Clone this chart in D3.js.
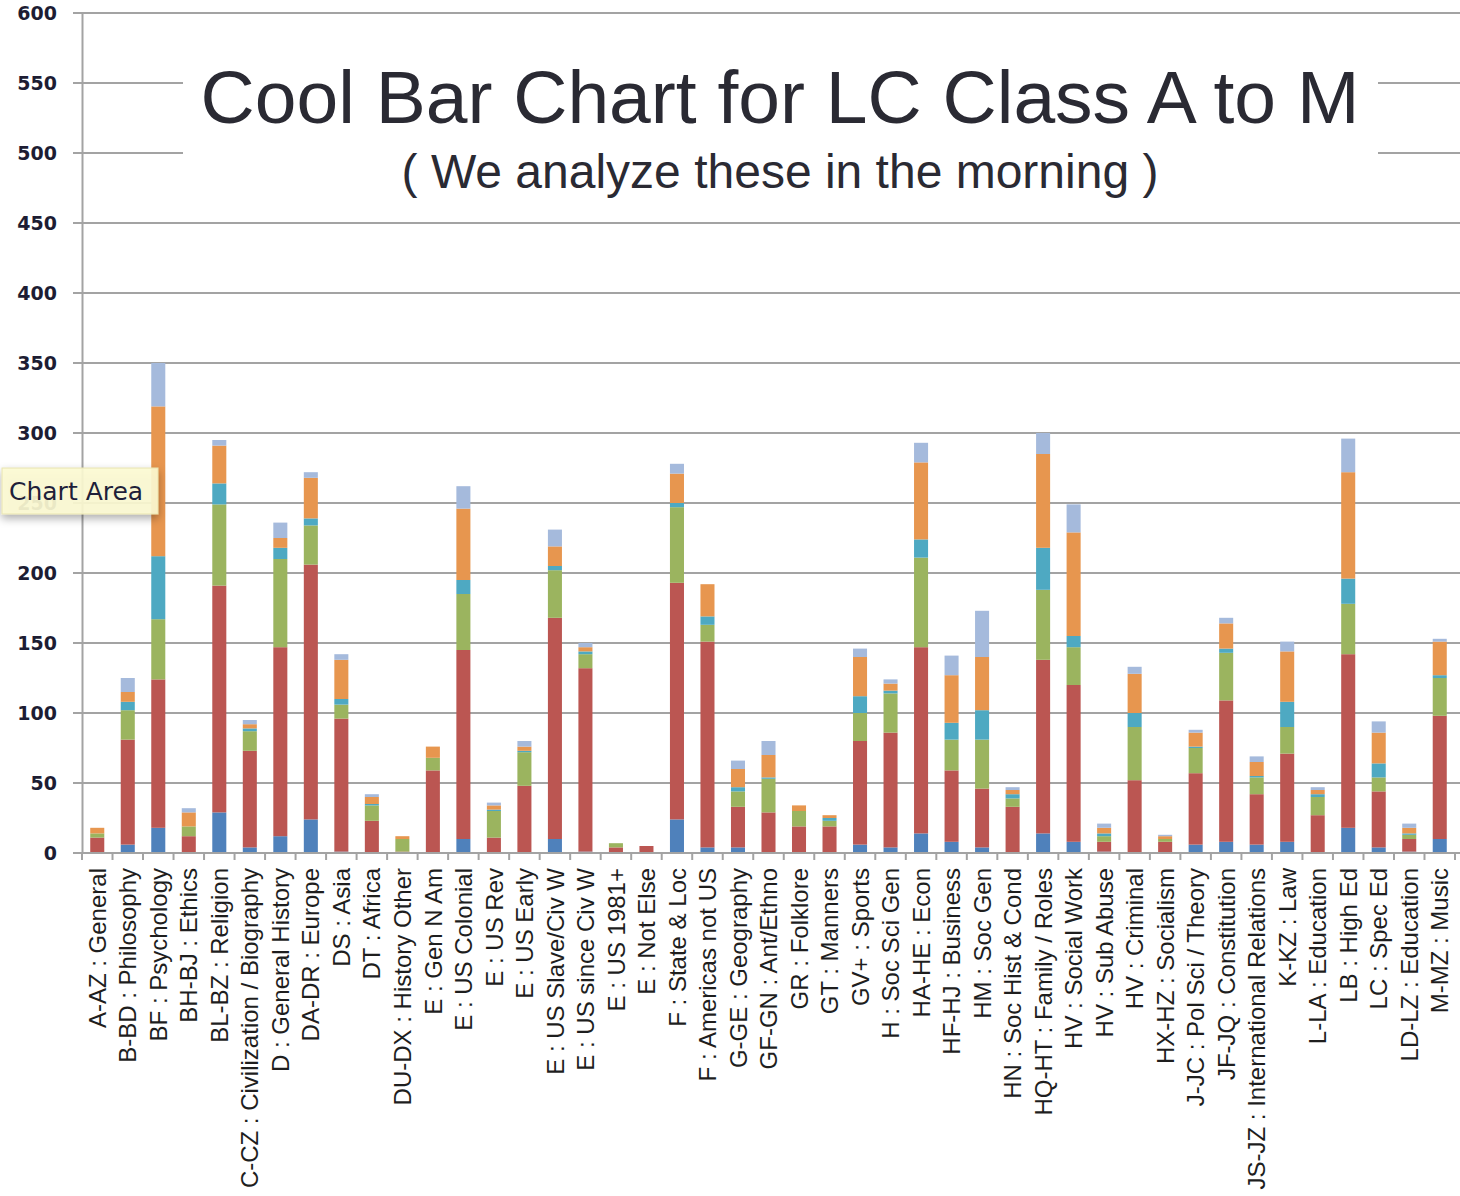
<!DOCTYPE html>
<html>
<head>
<meta charset="utf-8">
<script src="https://cdn.jsdelivr.net/npm/d3@7"></script>
<style>
  html, body { margin: 0; padding: 0; background: #fff; }
  svg { display: block; }
</style>
</head>
<body>
<script>
const categories = [
  "A-AZ : General", "B-BD : Philosophy", "BF : Psychology", "BH-BJ : Ethics", "BL-BZ : Religion",
  "C-CZ : Civilization / Biography", "D : General History", "DA-DR : Europe", "DS : Asia", "DT : Africa",
  "DU-DX : History Other", "E : Gen N Am", "E : US Colonial", "E : US Rev", "E : US Early",
  "E : US Slave/Civ W", "E : US since Civ W", "E : US 1981+", "E : Not Else", "F : State & Loc",
  "F : Americas not US", "G-GE : Geography", "GF-GN : Ant/Ethno", "GR : Folklore", "GT : Manners",
  "GV+ : Sports", "H : Soc Sci Gen", "HA-HE : Econ", "HF-HJ : Business", "HM : Soc Gen",
  "HN : Soc Hist & Cond", "HQ-HT : Family / Roles", "HV : Social Work", "HV : Sub Abuse", "HV : Criminal",
  "HX-HZ : Socialism", "J-JC : Pol Sci / Theory", "JF-JQ : Constitution", "JS-JZ : International Relations", "K-KZ : Law",
  "L-LA : Education", "LB : High Ed", "LC : Spec Ed", "LD-LZ : Education", "M-MZ : Music"
];

// series, bottom to top
const seriesBlue      = [0, 6, 18, 0, 29, 4, 12, 24, 1, 0, 0, 0, 10, 0, 0, 10, 1, 0, 0, 24, 4, 4, 0, 0, 0, 6, 4, 14, 8, 4, 0, 14, 8, 1, 0, 0, 6, 8, 6, 8, 0, 18, 4, 1, 10];
const seriesRed       = [11, 75, 106, 12, 162, 69, 135, 182, 95, 23, 1, 59, 135, 11, 48, 158, 131, 4, 5, 169, 147, 29, 29, 19, 19, 74, 82, 133, 51, 42, 33, 124, 112, 7, 52, 8, 51, 101, 36, 63, 27, 124, 40, 9, 88];
const seriesGreen     = [3, 21, 43, 7, 58, 14, 63, 28, 10, 11, 9, 9, 40, 19, 24, 34, 10, 3, 0, 54, 12, 11, 24, 11, 4, 20, 28, 64, 22, 35, 6, 50, 27, 4, 38, 2, 18, 34, 12, 19, 13, 36, 10, 3, 27];
const seriesTeal      = [0, 6, 45, 0, 15, 2, 8, 5, 4, 1, 0, 0, 10, 1, 1, 3, 2, 0, 0, 3, 6, 3, 1, 0, 2, 12, 2, 13, 12, 21, 3, 30, 8, 2, 10, 0, 1, 3, 1, 18, 2, 18, 10, 1, 2];
const seriesOrange    = [4, 7, 107, 10, 27, 3, 7, 29, 28, 5, 2, 8, 51, 3, 3, 14, 3, 0, 0, 21, 23, 13, 16, 4, 2, 28, 5, 55, 34, 38, 3, 67, 74, 4, 28, 2, 10, 18, 10, 36, 3, 76, 22, 4, 24];
const seriesLightBlue = [0, 10, 31, 3, 4, 3, 11, 4, 4, 2, 0, 0, 16, 2, 4, 12, 3, 0, 0, 7, 0, 6, 10, 0, 0, 6, 3, 14, 14, 33, 2, 15, 20, 3, 5, 1, 2, 4, 4, 7, 2, 24, 8, 3, 2];

const yTicks = [0, 50, 100, 150, 200, 250, 300, 350, 400, 450, 500, 550, 600];
const titleText = "Cool Bar Chart for LC Class A to M";
const subtitleText = "( We analyze these in the morning )";
const tooltipText = "Chart Area";

const seriesKeys = ["blue", "red", "green", "teal", "orange", "lightBlue"];
const seriesArrays = [seriesBlue, seriesRed, seriesGreen, seriesTeal, seriesOrange, seriesLightBlue];
const colors = {
  blue: "#4f81bb", red: "#bb5652", green: "#9bb45f", teal: "#4ea9c2",
  orange: "#e7964f", lightBlue: "#a5badc"
};

const W = 1460, H = 1196;
const svg = d3.select("body").append("svg").attr("width", W).attr("height", H);

const table = categories.map((c, i) => {
  const row = { category: c };
  seriesKeys.forEach((k, j) => row[k] = seriesArrays[j][i]);
  return row;
});

const x = d3.scaleBand().domain(categories).range([82, 1455]).paddingInner(0.54).paddingOuter(0.27);
const y = d3.scaleLinear().domain([0, 600]).range([853, 13]);

// gridlines
svg.append("g").selectAll("line").data(yTicks).join("line")
  .attr("x1", 73).attr("x2", W)
  .attr("y1", d => y(d)).attr("y2", d => y(d))
  .attr("stroke", "#a3a3a3").attr("stroke-width", 2);

// y axis
const yAxis = svg.append("g").attr("transform", "translate(82,0)")
  .call(d3.axisLeft(y).tickValues(yTicks).tickSize(0).tickPadding(25));
yAxis.select(".domain").attr("stroke", "#a3a3a3").attr("stroke-width", 2);
yAxis.selectAll("text")
  .attr("font-family", "DejaVu Sans, sans-serif")
  .attr("font-size", 19).attr("font-weight", "bold")
  .attr("fill", "#1d1d33");

// stacked bars
const stack = d3.stack().keys(seriesKeys)(table);
svg.append("g").selectAll("g").data(stack).join("g")
  .attr("fill", d => colors[d.key])
  .selectAll("rect").data(d => d).join("rect")
  .attr("x", d => x(d.data.category))
  .attr("width", x.bandwidth())
  .attr("y", d => y(d[1]))
  .attr("height", d => Math.max(0, y(d[0]) - y(d[1])));

// x axis
const step = x.step();
const xAxis = svg.append("g").attr("transform", "translate(0,853)")
  .call(d3.axisBottom(x).tickSize(0).tickPadding(0));
xAxis.select(".domain").remove();
svg.append("line").attr("x1", 73).attr("x2", W).attr("y1", 853).attr("y2", 853)
  .attr("stroke", "#a3a3a3").attr("stroke-width", 2);
// band-boundary tick marks
const boundaries = categories.map((c, i) => x(c) + x.bandwidth() / 2 - step / 2).concat([x(categories[categories.length - 1]) + x.bandwidth() / 2 + step / 2]);
svg.append("g").selectAll("line").data(boundaries).join("line")
  .attr("x1", d => d).attr("x2", d => d).attr("y1", 853).attr("y2", 860)
  .attr("stroke", "#a3a3a3").attr("stroke-width", 2);

xAxis.selectAll("text")
  .attr("font-family", "Liberation Sans, Arial, sans-serif")
  .attr("font-size", 24).attr("fill", "#1e1e1e")
  .attr("text-anchor", "end")
  .attr("transform", "translate(0,15) rotate(-90)")
  .attr("x", 0).attr("y", 0).attr("dy", "0.36em");

// title block
svg.append("rect").attr("x", 183).attr("y", 45).attr("width", 1195).attr("height", 152).attr("fill", "#fff");
svg.append("text").attr("x", 780).attr("y", 123).attr("text-anchor", "middle")
  .attr("font-family", "Liberation Sans, Arial, sans-serif").attr("font-size", 75)
  .attr("fill", "#2a2a33").text(titleText);
svg.append("text").attr("x", 780).attr("y", 188).attr("text-anchor", "middle")
  .attr("font-family", "Liberation Sans, Arial, sans-serif").attr("font-size", 48)
  .attr("fill", "#2a2a33").text(subtitleText);

// tooltip (overlays the faint "250" label, as in the original screenshot)
const defs = svg.append("defs");
const f = defs.append("filter").attr("id", "shadow").attr("x", "-20%").attr("y", "-30%").attr("width", "140%").attr("height", "180%");
f.append("feDropShadow").attr("dx", 0).attr("dy", 4).attr("stdDeviation", 4).attr("flood-color", "#000").attr("flood-opacity", 0.35);
const tip = svg.append("g");
tip.append("rect").attr("x", 2).attr("y", 468).attr("width", 156).attr("height", 46)
  .attr("fill", "#fdfbd3").attr("fill-opacity", 0.9)
  .attr("stroke", "#e8e4b0").attr("stroke-width", 1).attr("filter", "url(#shadow)");
tip.append("text").attr("x", 9).attr("y", 500)
  .attr("font-family", "DejaVu Sans, sans-serif").attr("font-size", 25)
  .attr("fill", "#1f1f3a").text(tooltipText);
</script>
</body>
</html>
